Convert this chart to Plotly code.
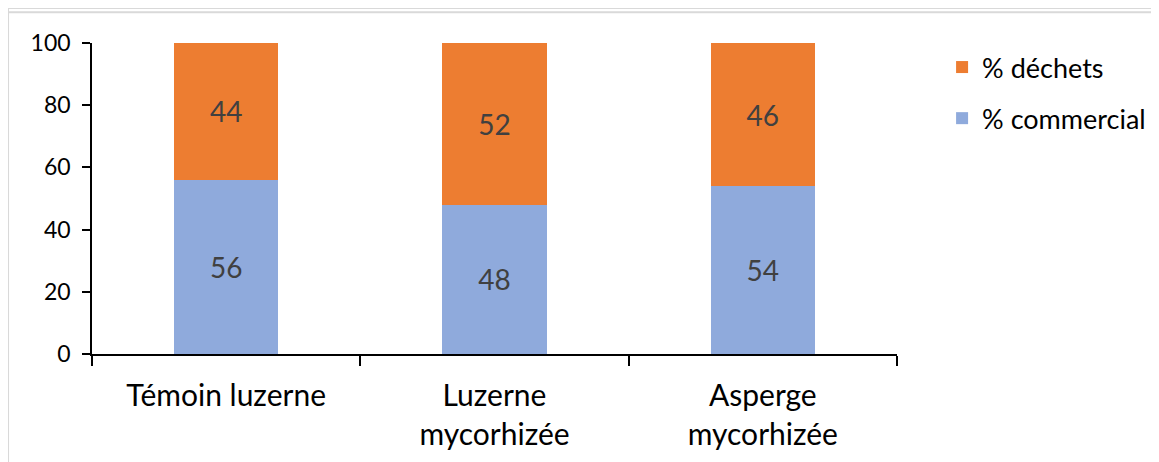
import plotly.graph_objects as go

categories = ["Témoin luzerne", "Luzerne<br>mycorhizée", "Asperge<br>mycorhizée"]
commercial = [56, 48, 54]
dechets = [44, 52, 46]
y_ticks = [0, 20, 40, 60, 80, 100]

FONT = "Lato, 'Open Sans', sans-serif"
BLUE = "#8FAADC"
ORANGE = "#ED7D31"

fig = go.Figure()
fig.add_trace(go.Bar(
    x=categories, y=commercial, name="% commercial",
    marker=dict(color=BLUE, line=dict(width=0)),
    text=[str(v) for v in commercial], textposition="inside",
    insidetextanchor="middle",
    textfont=dict(family=FONT, size=28, color="#404040"),
    legendgroup="c", legendrank=2,
))
fig.add_trace(go.Bar(
    x=categories, y=dechets, name="% déchets",
    marker=dict(color=ORANGE, line=dict(width=0)),
    text=[str(v) for v in dechets], textposition="inside",
    insidetextanchor="middle",
    textfont=dict(family=FONT, size=28, color="#404040"),
    legendgroup="d", legendrank=1,
))

# frame lines (decoration)
frame_color = "#D9D9D9"
shapes = [
    dict(type="line", xref="paper", yref="paper", x0=-0.1043, x1=1.35, y0=1.1125, y1=1.1125,
         line=dict(color=frame_color, width=2)),
    dict(type="line", xref="paper", yref="paper", x0=-0.1043, x1=1.35, y0=1.0987, y1=1.0987,
         line=dict(color=frame_color, width=2)),
    dict(type="line", xref="paper", yref="paper", x0=-0.1043, x1=-0.1043, y0=-0.40, y1=1.15,
         line=dict(color=frame_color, width=2)),
]

fig.update_layout(
    width=1159, height=462,
    margin=dict(l=84, r=270, t=35, b=116),
    paper_bgcolor="white", plot_bgcolor="white",
    barmode="stack", bargap=0.61,
    font=dict(family=FONT, color="black"),
    shapes=shapes,
    legend=dict(
        x=1.056, y=1.0, xanchor="left", yanchor="top",
        traceorder="grouped", tracegroupgap=13,
        font=dict(family=FONT, size=27, color="black"),
        bgcolor="rgba(0,0,0,0)",
    ),
    xaxis=dict(
        type="category", range=[-0.5, 2.5],
        showline=True, linecolor="black", linewidth=1.5,
        ticks="outside", tickson="boundaries", ticklen=10, tickwidth=1.5, tickcolor="black",
        tickfont=dict(family=FONT, size=30, color="black"),
        ticklabelstandoff=14,
        showgrid=False, zeroline=False,
    ),
    yaxis=dict(
        range=[0, 100], tickvals=y_ticks,
        showline=True, linecolor="black", linewidth=1.5,
        ticks="outside", ticklen=8, tickwidth=1.5, tickcolor="black",
        tickfont=dict(family=FONT, size=23, color="black"),
        ticklabelstandoff=7,
        showgrid=False, zeroline=False,
    ),
)

fig.write_html("out.html")
